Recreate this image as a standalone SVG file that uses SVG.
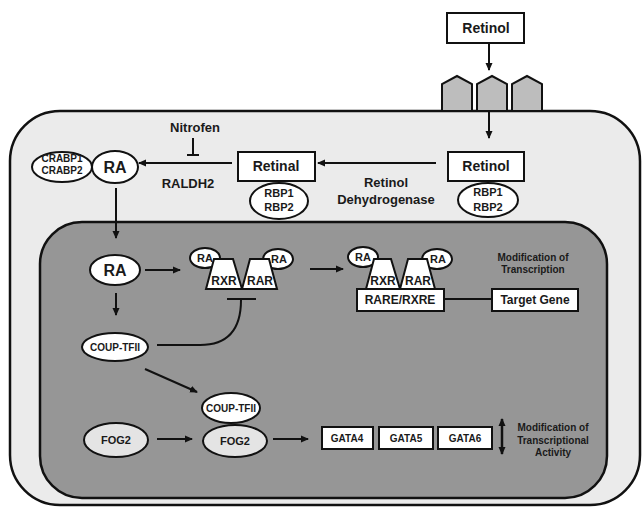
<svg xmlns="http://www.w3.org/2000/svg" width="642" height="508" viewBox="0 0 642 508">
<defs>
<marker id="ah" markerUnits="userSpaceOnUse" markerWidth="8" markerHeight="8" viewBox="0 0 8 8" refX="7" refY="4" orient="auto">
<path d="M0,0.5 L8,4 L0,7.5 Z" fill="#111"/>
</marker>
<marker id="ahs" markerUnits="userSpaceOnUse" markerWidth="8" markerHeight="8" viewBox="0 0 8 8" refX="7" refY="4" orient="auto-start-reverse">
<path d="M0,0.5 L8,4 L0,7.5 Z" fill="#111"/>
</marker>
</defs>
<style>
text{font-family:"Liberation Sans",Arial,sans-serif;font-weight:bold;fill:#1a1a1a;text-anchor:middle}
.box{fill:#fff;stroke:#111;stroke-width:2}
.ell{fill:#fff;stroke:#111;stroke-width:2}
.gray{fill:#e4e4e4;stroke:#111;stroke-width:2}
.trap{fill:#fff;stroke:#111;stroke-width:2;stroke-linejoin:miter}
.rec{fill:#bdbdbd;stroke:#111;stroke-width:2}
.c{fill:none;stroke:#111;stroke-width:2}
.a{fill:none;stroke:#111;stroke-width:2;marker-end:url(#ah)}
</style>
<rect width="642" height="508" fill="#fff"/>
<g id="cell"><rect x="10" y="111" width="630" height="394" rx="50" fill="#ebebeb" stroke="#111" stroke-width="2.5"/></g>
<g id="receptors">
<path class="rec" d="M442,111 V84 L457,76 L472,84 V111 Z"/>
<path class="rec" d="M477,111 V84 L492,76 L507,84 V111 Z"/>
<path class="rec" d="M512,111 V84 L527,76 L542,84 V111 Z"/>
</g>
<g id="nucleus"><rect x="40" y="222" width="567" height="276" rx="42" fill="#969696" stroke="#111" stroke-width="2.5"/></g>

<g id="connectors">
<path class="a" d="M489,44 V70"/>
<path class="a" d="M489,111 V138"/>
<path class="a" d="M436,163 H318"/>
<path class="a" d="M232,163 H139"/>
<path class="c" d="M193,138 V155 M187,155 H199"/>
<path class="a" d="M116,188 V238"/>
<path class="a" d="M145,270 H180"/>
<path class="a" d="M310,269 H343"/>
<path class="a" d="M116,293 V315"/>
<path class="c" d="M157,345 H200 Q241,345 241,300 M227,299 H256"/>
<path class="a" d="M145,369 L197,392"/>
<path class="a" d="M157,439 H192"/>
<path class="a" d="M273,439 H308"/>
<path class="c" d="M444,299 H492"/>
<path d="M502,419 V454" fill="none" stroke="#111" stroke-width="2.5" marker-start="url(#ahs)" marker-end="url(#ah)"/>
</g>

<g id="retinol-top"><rect class="box" x="447" y="13" width="77" height="30"/><text x="486" y="33" font-size="14">Retinol</text></g>
<g id="retinol"><rect class="box" x="448" y="152" width="76" height="29"/><text x="486" y="171" font-size="14">Retinol</text></g>
<g id="rbp-retinol"><ellipse class="ell" cx="488" cy="200" rx="30" ry="17"/><text x="488" y="196" font-size="11">RBP1</text><text x="488" y="211" font-size="11">RBP2</text></g>
<g id="retinal"><rect class="box" x="238" y="152" width="77" height="29"/><text x="276" y="171" font-size="14">Retinal</text></g>
<g id="rbp-retinal"><ellipse class="ell" cx="279" cy="201" rx="29" ry="18"/><text x="279" y="197" font-size="11">RBP1</text><text x="279" y="211" font-size="11">RBP2</text></g>
<g id="ra-cyto"><ellipse class="ell" cx="115" cy="167" rx="23" ry="16"/><text x="115" y="173" font-size="16">RA</text></g>
<g id="crabp"><ellipse class="ell" cx="62" cy="167" rx="30" ry="15"/><text x="62" y="162" font-size="10">CRABP1</text><text x="62" y="174" font-size="10">CRABP2</text></g>
<g id="labels">
<text x="195" y="132" font-size="13">Nitrofen</text>
<text x="188" y="188" font-size="13">RALDH2</text>
<text x="386" y="187" font-size="13">Retinol</text>
<text x="386" y="204" font-size="13">Dehydrogenase</text>
<text x="533" y="261" font-size="10">Modification of</text>
<text x="533" y="273" font-size="10">Transcription</text>
<text x="553" y="431" font-size="10">Modification of</text>
<text x="553" y="444" font-size="10">Transcriptional</text>
<text x="553" y="456" font-size="10">Activity</text>
</g>
<g id="ra-nuc"><ellipse class="ell" cx="115" cy="270" rx="25" ry="15"/><text x="115" y="276" font-size="16">RA</text></g>
<g id="rxr-rar-1">
<ellipse class="ell" cx="205" cy="258" rx="15" ry="10"/><text x="205" y="262" font-size="11">RA</text>
<ellipse class="ell" cx="278" cy="259" rx="15" ry="10"/><text x="279" y="263" font-size="11">RA</text>
<polygon class="trap" points="206,289 214,259 233,259 242,289"/>
<polygon class="trap" points="242,289 250,259 269,259 277,289"/>
<text x="224" y="285" font-size="12">RXR</text><text x="260" y="285" font-size="12">RAR</text>
</g>
<g id="rxr-rar-2">
<ellipse class="ell" cx="363" cy="257" rx="15" ry="10"/><text x="363" y="261" font-size="11">RA</text>
<ellipse class="ell" cx="437" cy="259" rx="15" ry="10"/><text x="438" y="263" font-size="11">RA</text>
<polygon class="trap" points="366,289 374,259 391,259 400,289"/>
<polygon class="trap" points="400,289 408,259 427,259 435,289"/>
<text x="383" y="285" font-size="12">RXR</text><text x="418" y="285" font-size="12">RAR</text>
</g>
<g id="rare"><rect class="box" x="357" y="289" width="87" height="22"/><text x="400" y="304" font-size="12">RARE/RXRE</text></g>
<g id="target"><rect class="box" x="492" y="289" width="86" height="22"/><text x="535" y="304" font-size="12">Target Gene</text></g>
<g id="coup"><ellipse class="ell" cx="115" cy="347" rx="33" ry="14"/><text x="115" y="351" font-size="10">COUP-TFII</text></g>
<g id="fog2"><ellipse class="gray" cx="116" cy="440" rx="32" ry="17"/><text x="116" y="444" font-size="11">FOG2</text></g>
<g id="complex">
<ellipse class="gray" cx="235" cy="441" rx="32" ry="16"/><text x="235" y="445" font-size="11">FOG2</text>
<ellipse class="ell" cx="231" cy="408" rx="29" ry="15"/><text x="231" y="412" font-size="10">COUP-TFII</text>
</g>
<g id="gata4"><rect class="box" x="322" y="427" width="51" height="22"/><text x="347" y="442" font-size="10">GATA4</text></g>
<g id="gata5"><rect class="box" x="379" y="427" width="54" height="22"/><text x="406" y="442" font-size="10">GATA5</text></g>
<g id="gata6"><rect class="box" x="438" y="427" width="54" height="22"/><text x="465" y="442" font-size="10">GATA6</text></g>
</svg>
